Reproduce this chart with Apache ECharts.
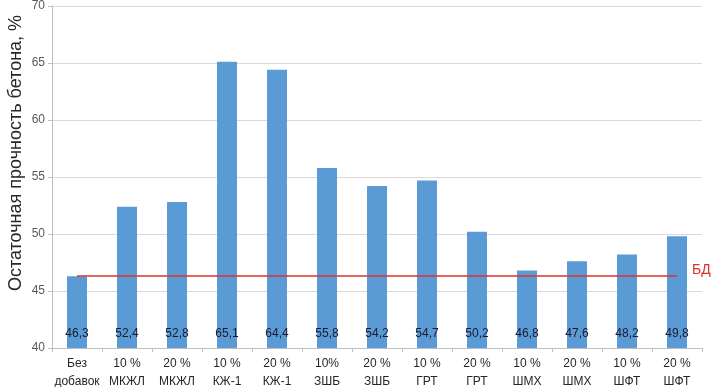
<!DOCTYPE html>
<html>
<head>
<meta charset="utf-8">
<script src="https://cdn.jsdelivr.net/npm/echarts@6/dist/echarts.min.js"></script>
<style>
  html, body { margin: 0; padding: 0; background: #fff; }
  #chart { width: 715px; height: 387px; }
</style>
</head>
<body>
<div id="chart"></div>
<script>
// подписи категорий (две строки)
var categories = [
  "Без\nдобавок", "10 %\nМКЖЛ", "20 %\nМКЖЛ", "10 %\nКЖ-1", "20 %\nКЖ-1",
  "10%\nЗШБ", "20 %\nЗШБ", "10 %\nГРТ", "20 %\nГРТ", "10 %\nШМХ",
  "20 %\nШМХ", "10 %\nШФТ", "20 %\nШФТ"
];
var strength = [46.3, 52.4, 52.8, 65.1, 64.4, 55.8, 54.2, 54.7, 50.2, 46.8, 47.6, 48.2, 49.8];
var baseLevel = 46.3; // БД - без добавок
var baseLabel = "БД";
var yName = "Остаточная прочность бетона, %";

var chart = echarts.init(document.getElementById("chart"));
var font = "Liberation Sans, Arial, sans-serif";

var option = {
  animation: false,
  textStyle: { fontFamily: font },
  grid: { left: 52, right: 13, top: 6, bottom: 39, containLabel: false, outerBoundsMode: "none" },
  xAxis: {
    type: "category",
    data: categories,
    axisLine: { lineStyle: { color: "#bfbfbf" } },
    axisTick: { show: true, length: 4, lineStyle: { color: "#bfbfbf" } },
    axisLabel: { color: "#262626", fontSize: 12, lineHeight: 18, margin: 7, interval: 0 }
  },
  yAxis: {
    type: "value",
    min: 40,
    max: 70,
    interval: 5,
    name: yName,
    nameLocation: "middle",
    nameGap: 27,
    nameMoveOverlap: false,
    nameTextStyle: { color: "#262626", fontSize: 18, padding: [0, 0, 0, 48] },
    axisLine: { show: true, lineStyle: { color: "#bfbfbf" } },
    axisTick: { show: true, length: 4, lineStyle: { color: "#bfbfbf" } },
    axisLabel: { color: "#595959", fontSize: 12, margin: 7 },
    splitLine: { lineStyle: { color: "#d9d9d9" } }
  },
  series: [{
    type: "bar",
    data: strength,
    barWidth: 20,
    itemStyle: { color: "#5b9bd5" },
    label: {
      show: true,
      position: "insideBottom",
      distance: 8,
      color: "#1a1a2e",
      fontSize: 12,
      formatter: function (p) { return String(p.value).replace(".", ","); }
    },
    markLine: {
      symbol: "none",
      silent: true,
      lineStyle: { color: "#e0302c", width: 1.5, type: "solid" },
      label: { show: true, position: "end", formatter: baseLabel, color: "#e0302c", fontSize: 14, distance: 15, offset: [0, -6] },
      data: [[
        { xAxis: 0, yAxis: baseLevel },
        { xAxis: categories.length - 1, yAxis: baseLevel }
      ]]
    }
  }]
};

chart.setOption(option);
</script>
</body>
</html>
